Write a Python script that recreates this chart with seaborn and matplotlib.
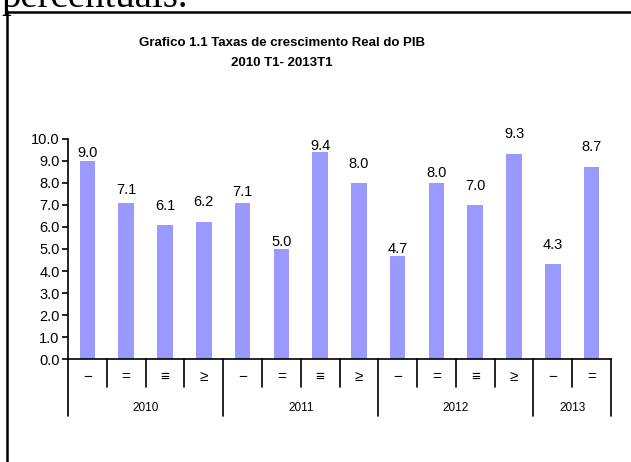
import numpy as np
import pandas as pd
import matplotlib
matplotlib.use("Agg")
import matplotlib.pyplot as plt
from matplotlib import font_manager
from matplotlib.lines import Line2D
import seaborn as sns

# ---- data ----
periods = ["2010T1", "2010T2", "2010T3", "2010T4",
           "2011T1", "2011T2", "2011T3", "2011T4",
           "2012T1", "2012T2", "2012T3", "2012T4",
           "2013T1", "2013T2"]
growth = [9.0, 7.1, 6.1, 6.2, 7.1, 5.0, 9.4, 8.0, 4.7, 8.0, 7.0, 9.3, 4.3, 8.7]
quarter_labels = ["−", "=", "≡", "≥", "−", "=", "≡", "≥", "−", "=", "≡", "≥", "−", "="]
years = ["2010", "2011", "2012", "2013"]
year_sizes = [4, 4, 4, 2]
title_line1 = "Grafico 1.1 Taxas de crescimento Real do PIB"
title_line2 = "2010 T1- 2013T1"

# label vertical offsets above bar top (pixels) - styling only
label_offsets_px = [8, 12.5, 19, 20, 11, 7, 6, 19, 7, 10, 19, 20, 19, 20]

sns.set_theme(style="white")
names = {f.name for f in font_manager.fontManager.ttflist}
narrow = "Liberation Sans Narrow" if "Liberation Sans Narrow" in names else "Liberation Sans"
plt.rcParams["font.family"] = [narrow, "DejaVu Sans"]

W, H = 631, 462
fig = plt.figure(figsize=(W / 100, H / 100), dpi=100)
ax_left, ax_right = 68 / W, 611 / W
ax_bottom, ax_top = (H - 359.3) / H, (H - 138.6) / H
ax = fig.add_axes([ax_left, ax_bottom, ax_right - ax_left, ax_top - ax_bottom])

df = pd.DataFrame({"periodo": periods, "taxa": growth})
sns.barplot(data=df, x="periodo", y="taxa", color="#9999FF", saturation=1,
            width=0.4, edgecolor="none", ax=ax)

n = len(periods)
ax.set_xlim(-0.5, n - 0.5)
ax.set_ylim(0, 10)
ax.set_yticks(np.arange(0, 10.01, 1.0))
ax.set_yticklabels([f"{v:.1f}" for v in np.arange(0, 10.01, 1.0)], fontsize=10.5)
ax.set_xticks([])
ax.set_xlabel("")
ax.set_ylabel("")
for s in ["top", "right"]:
    ax.spines[s].set_visible(False)
for s in ["left", "bottom"]:
    ax.spines[s].set_color("black")
    ax.spines[s].set_linewidth(1.2)
ax.tick_params(axis="y", which="major", direction="out", length=4, width=1.2,
               color="black", left=True, pad=2, labelcolor="black")
ax.set_facecolor("white")

# value labels
for i, (v, off) in enumerate(zip(growth, label_offsets_px)):
    ax.annotate(f"{v:.1f}", xy=(i, v), xytext=(0, off * 0.72),
                textcoords="offset points", ha="center", va="center",
                fontsize=10.5, color="black", annotation_clip=False)

# category axis separators and labels
trans = ax.get_xaxis_transform()
def px_to_axes_y(py):
    return ((H - py) / H - ax_bottom) / (ax_top - ax_bottom)

y_axis0 = 0.0
y_q_end = px_to_axes_y(387)
y_year_end = px_to_axes_y(416)
y_q_lab = px_to_axes_y(377)
y_year_lab = px_to_axes_y(408)

year_bounds = np.cumsum([0] + year_sizes)
for b in range(n + 1):
    x = b - 0.5
    end = y_year_end if b in year_bounds else y_q_end
    ax.add_line(Line2D([x, x], [y_axis0, end], transform=trans, color="black",
                       lw=1.2, clip_on=False))
for i, q in enumerate(quarter_labels):
    ax.text(i, y_q_lab, q, transform=trans, ha="center", va="center",
            fontsize=11, color="black",
            family=["Liberation Sans", "DejaVu Sans"])
for k, yr in enumerate(years):
    center = (year_bounds[k] + year_bounds[k + 1]) / 2 - 0.5
    ax.text(center, y_year_lab, yr, transform=trans, ha="center", va="center",
            fontsize=8.5, color="black")

# title
fig.text(282 / W, (H - 43.5) / H, title_line1, ha="center", va="center",
         fontsize=9.5, fontweight="bold", color="black")
fig.text(282 / W, (H - 63) / H, title_line2, ha="center", va="center",
         fontsize=9.5, fontweight="bold", color="black")

# outer document box and clipped preceding text
fig.add_artist(Line2D([6.5 / W, 6.5 / W], [0, (H - 11) / H], color="black", lw=1.8))
fig.add_artist(Line2D([6.5 / W, 1], [(H - 11.5) / H, (H - 11.5) / H], color="black", lw=1.8))
fig.text(1 / W, (H - 6.5) / H, "percentuais.", ha="left", va="baseline",
         fontsize=28, family=["Liberation Serif", "DejaVu Serif"], color="black")

fig.savefig("out.png", dpi=100, facecolor="white")
